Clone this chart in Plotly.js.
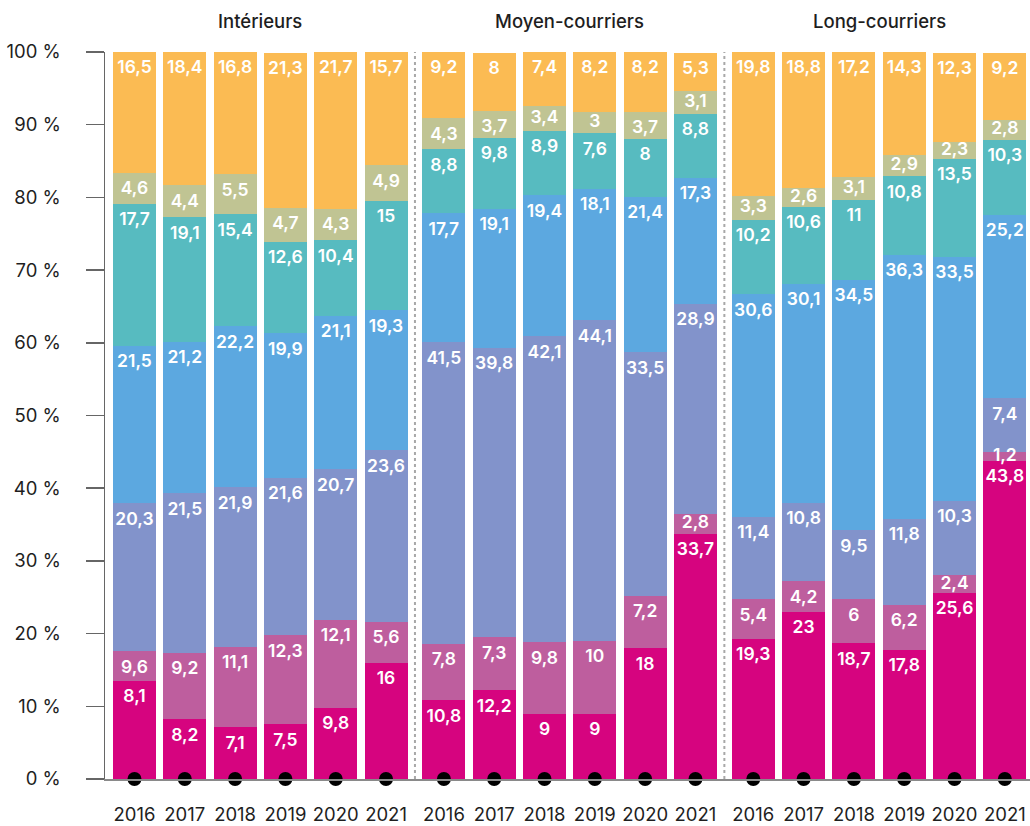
<!DOCTYPE html>
<html>
<head>
<meta charset="utf-8">
<script src="https://cdn.plot.ly/plotly-3.0.1.min.js"></script>
<style>
  html, body { margin: 0; padding: 0; background: #fff; }
  #chart { width: 1030px; height: 826px; }
</style>
</head>
<body>
<div id="chart"></div>
<script>
// ---- Data (order: Intérieurs 2016-2021, Moyen-courriers 2016-2021, Long-courriers 2016-2021)
const groups = ['Intérieurs', 'Moyen-courriers', 'Long-courriers'];
const years = ['2016', '2017', '2018', '2019', '2020', '2021'];

// Printed labels (%)
const label1 = [8.1, 8.2, 7.1, 7.5, 9.8, 16, 10.8, 12.2, 9, 9, 18, 33.7, 19.3, 23, 18.7, 17.8, 25.6, 43.8];
const label2 = [9.6, 9.2, 11.1, 12.3, 12.1, 5.6, 7.8, 7.3, 9.8, 10, 7.2, 2.8, 5.4, 4.2, 6, 6.2, 2.4, 1.2];
const label3 = [20.3, 21.5, 21.9, 21.6, 20.7, 23.6, 41.5, 39.8, 42.1, 44.1, 33.5, 28.9, 11.4, 10.8, 9.5, 11.8, 10.3, 7.4];
const label4 = [21.5, 21.2, 22.2, 19.9, 21.1, 19.3, 17.7, 19.1, 19.4, 18.1, 21.4, 17.3, 30.6, 30.1, 34.5, 36.3, 33.5, 25.2];
const label5 = [17.7, 19.1, 15.4, 12.6, 10.4, 15, 8.8, 9.8, 8.9, 7.6, 8, 8.8, 10.2, 10.6, 11, 10.8, 13.5, 10.3];
const label6 = [4.6, 4.4, 5.5, 4.7, 4.3, 4.9, 4.3, 3.7, 3.4, 3, 3.7, 3.1, 3.3, 2.6, 3.1, 2.9, 2.3, 2.8];
const label7 = [16.5, 18.4, 16.8, 21.3, 21.7, 15.7, 9.2, 8, 7.4, 8.2, 8.2, 5.3, 19.8, 18.8, 17.2, 14.3, 12.3, 9.2];

// Drawn segment heights (%)
const height1 = [13.5, 8.2, 7.1, 7.5, 9.8, 16, 10.8, 12.2, 9, 9, 18, 33.7, 19.3, 23, 18.7, 17.8, 25.6, 43.8];
const height2 = [4.1, 9.2, 11.1, 12.3, 12.1, 5.6, 7.8, 7.3, 9.8, 10, 7.2, 2.8, 5.4, 4.2, 6, 6.2, 2.4, 1.2];
const height3 = [20.35, 21.9, 21.9, 21.6, 20.7, 23.6, 41.5, 39.8, 42.1, 44.1, 33.5, 28.9, 11.4, 10.8, 9.5, 11.8, 10.3, 7.4];
const height4 = [21.65, 20.85, 22.2, 19.9, 21.1, 19.3, 17.7, 19.1, 19.4, 18.1, 21.4, 17.3, 30.6, 30.1, 34.5, 36.3, 33.5, 25.2];
const height5 = [19.55, 17.1, 15.4, 12.6, 10.4, 15, 8.8, 9.8, 8.9, 7.6, 8, 8.8, 10.2, 10.6, 11, 10.8, 13.5, 10.3];
const height6 = [4.25, 4.4, 5.5, 4.7, 4.3, 4.9, 4.3, 3.7, 3.4, 3, 3.7, 3.1, 3.3, 2.6, 3.1, 2.9, 2.3, 2.8];
const height7 = [16.6, 18.4, 16.8, 21.3, 21.7, 15.7, 9.2, 8, 7.4, 8.2, 8.2, 5.3, 19.8, 18.8, 17.2, 14.3, 12.3, 9.2];

const yTicks = [0, 10, 20, 30, 40, 50, 60, 70, 80, 90, 100];

// ---- Styles
const colors = ['#D6047F', '#BE5E9E', '#8293CB', '#5CA8E0', '#57BBC0', '#C0C493', '#FBBB53'];
const FONT = 'Inter, Lato, "Noto Sans", sans-serif';
const GROUP_STEP = 6.15;
const BAR_W = 0.855;

const heights = [height1, height2, height3, height4, height5, height6, height7];
const labels = [label1, label2, label3, label4, label5, label6, label7];

// x positions of columns
const xs = [];
const xTickText = [];
groups.forEach((g, gi) => years.forEach((y, yi) => { xs.push(gi * GROUP_STEP + yi); xTickText.push(y); }));

const traces = [];
const cum = xs.map(() => 0);
const textX = [], textY = [], textT = [];
heights.forEach((h, si) => {
  traces.push({
    type: 'bar', x: xs, y: h, width: BAR_W,
    marker: { color: colors[si], line: { width: 0 } },
    name: 'Série ' + (si + 1), hoverinfo: 'skip', showlegend: false
  });
  h.forEach((v, i) => {
    cum[i] += v;
    const off = v >= 3.5 ? 2.35 : v / 2;
    textX.push(xs[i]);
    textY.push(cum[i] - off);
    textT.push(String(labels[si][i]).replace('.', ','));
  });
});

traces.push({
  type: 'scatter', mode: 'text', x: textX, y: textY, text: textT,
  textposition: 'middle center',
  textfont: { family: FONT, size: 17.5, color: '#ffffff', weight: 600 },
  hoverinfo: 'skip', showlegend: false, cliponaxis: false
});

traces.push({
  type: 'scatter', mode: 'markers', x: xs, y: xs.map(() => 0),
  marker: { color: '#000000', size: 14 },
  hoverinfo: 'skip', showlegend: false, cliponaxis: false
});

const xMax = 2 * GROUP_STEP + 5;
const shapes = [1, 2].map(g => {
  const xv = (g * GROUP_STEP + (g - 1) * GROUP_STEP + 5) / 2;
  return {
    type: 'line', xref: 'x', yref: 'y', x0: xv, x1: xv, y0: 0, y1: 100,
    line: { color: '#A8A8A8', width: 2, dash: 'dot' }, layer: 'below'
  };
});

const annotations = groups.map((g, gi) => ({
  text: g, xref: 'x', yref: 'paper', x: gi * GROUP_STEP + 2.5, y: 1,
  yanchor: 'bottom', yshift: 18, showarrow: false,
  font: { family: FONT, size: 18.5, color: '#1E1E1E', weight: 500 }
}));

const layout = {
  width: 1030, height: 826,
  margin: { l: 105, r: 0, t: 52, b: 47 },
  paper_bgcolor: '#ffffff', plot_bgcolor: '#ffffff',
  barmode: 'stack', bargap: 0,
  font: { family: FONT, size: 18, color: '#1E1E1E' },
  showlegend: false,
  xaxis: {
    range: [-0.586, xMax + 0.5],
    tickmode: 'array', tickvals: xs, ticktext: xTickText,
    ticks: '', showgrid: false, zeroline: false,
    showline: true, linecolor: '#8A8A8A', linewidth: 2,
    tickfont: { family: FONT, size: 18.5, color: '#1E1E1E' },
    ticklabelstandoff: 18, fixedrange: true
  },
  yaxis: {
    range: [0, 100], tickmode: 'array', tickvals: yTicks,
    ticktext: yTicks.map(v => v + '\u00a0%'),
    ticks: 'outside', ticklen: 18, tickwidth: 1.5, tickcolor: '#666666',
    showline: true, linecolor: '#666666', linewidth: 1.5,
    showgrid: false, zeroline: false,
    tickfont: { family: FONT, size: 18.5, color: '#1E1E1E' },
    ticklabelstandoff: 21, fixedrange: true
  },
  shapes: shapes,
  annotations: annotations
};

Plotly.newPlot('chart', traces, layout, { displayModeBar: false, staticPlot: true });
</script>
</body>
</html>
